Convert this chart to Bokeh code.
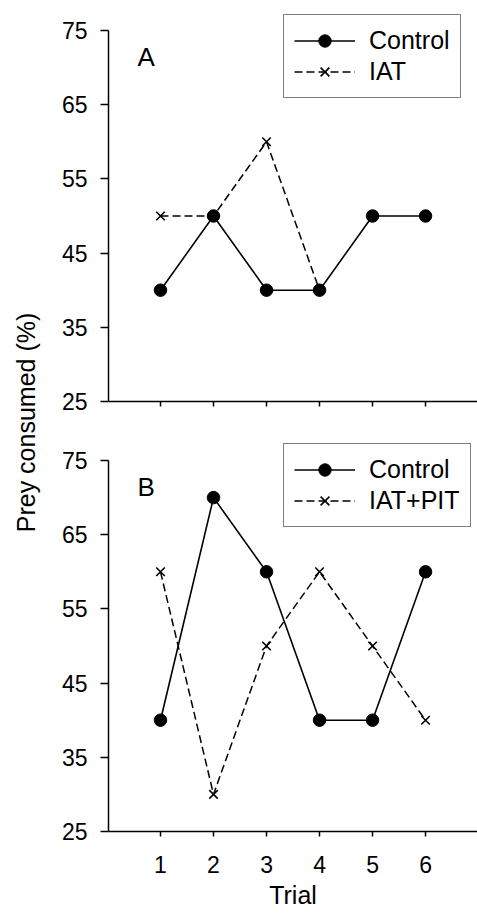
import math
from bokeh.plotting import figure
from bokeh.models import Label, Legend, LegendItem, FixedTicker, Range1d
from bokeh.layouts import row, column
from bokeh.embed import file_html
from bokeh.resources import INLINE

# ---- data ----
trials = [1, 2, 3, 4, 5, 6]
control_a = [40, 50, 40, 40, 50, 50]
iat_trials = [1, 2, 3, 4]
iat_a = [50, 50, 60, 40]
control_b = [40, 70, 60, 40, 40, 60]
iatpit_b = [60, 30, 50, 60, 50, 40]
y_ticks = [25, 35, 45, 55, 65, 75]
x_ticks = [1, 2, 3, 4, 5, 6]

FONT = "Liberation Sans"
INK = "#000000"
PX = 50.0 / 371.0  # data units per pixel on the y axis


def make_panel(letter, ctrl, treat_x, treat_y, treat_name, top_extra, top_border,
               bottom, show_xlabels):
    frame_h = 371 + top_extra
    p = figure(
        frame_width=369, frame_height=frame_h,
        min_border_left=60, min_border_right=0,
        min_border_top=top_border, min_border_bottom=bottom,
        x_range=Range1d(0.019, 6.98), y_range=Range1d(25, 75 + top_extra * PX),
        output_backend="svg", toolbar_location=None,
    )
    p.outline_line_color = None
    p.xgrid.grid_line_color = None
    p.ygrid.grid_line_color = None
    p.background_fill_color = "white"
    p.border_fill_color = "white"

    p.yaxis.ticker = FixedTicker(ticks=y_ticks)
    p.yaxis.bounds = (25, 75)
    p.xaxis.ticker = FixedTicker(ticks=x_ticks)
    for ax in (p.xaxis, p.yaxis):
        ax.axis_line_width = 1.5
        ax.axis_line_color = INK
        ax.major_tick_line_width = 1.5
        ax.major_tick_line_color = INK
        ax.minor_tick_line_color = None
        ax.major_tick_in = 0
        ax.major_label_text_font = FONT
        ax.major_label_text_font_size = "23px"
        ax.major_label_text_color = INK
    p.yaxis.major_tick_out = 8
    p.yaxis.major_label_standoff = 13
    p.xaxis.major_tick_out = 5
    p.xaxis.major_label_standoff = 19
    if show_xlabels:
        p.xaxis.axis_label = "Trial"
        p.xaxis.axis_label_text_font = FONT
        p.xaxis.axis_label_text_font_size = "25px"
        p.xaxis.axis_label_text_font_style = "normal"
        p.xaxis.axis_label_text_color = INK
        p.xaxis.axis_label_standoff = 5
    else:
        p.xaxis.major_label_overrides = {t: "" for t in x_ticks}

    r1 = p.line(trials, ctrl, line_color=INK, line_width=1.6)
    r2 = p.scatter(trials, ctrl, marker="circle", size=12.5, fill_color=INK, line_color=INK)
    r3 = p.line(treat_x, treat_y, line_color=INK, line_width=1.5, line_dash="8 4")
    r4 = p.scatter(treat_x, treat_y, marker="x", size=12, line_color=INK, line_width=1.6)

    legend = Legend(
        items=[LegendItem(label="Control", renderers=[r1, r2]),
               LegendItem(label=treat_name, renderers=[r3, r4])],
        location=(175, frame_h - 84),
        glyph_width=61, glyph_height=31, label_height=31,
        label_standoff=14, spacing=0, padding=10, margin=0,
        label_text_font=FONT, label_text_font_size="25px", label_text_color=INK,
        border_line_color=INK, border_line_width=1.5,
        background_fill_color="white", background_fill_alpha=1.0,
    )
    p.add_layout(legend, "center")

    p.add_layout(Label(x=0.566, y=71.4, text=letter, text_font=FONT,
                       text_font_size="26px", text_color=INK,
                       text_align="left", text_baseline="middle"))
    return p


pA = make_panel("A", control_a, iat_trials, iat_a, "IAT", 16, 14, 29, False)
pB = make_panel("B", control_b, trials, iatpit_b, "IAT+PIT", 17, 13, 87, True)

lab = figure(width=48, height=918, min_border=0, x_range=Range1d(0, 48),
             y_range=Range1d(0, 918), output_backend="svg", toolbar_location=None)
lab.axis.visible = False
lab.grid.visible = False
lab.outline_line_color = None
lab.add_layout(Label(x=25, y=496, text="Prey consumed (%)", angle=math.pi / 2,
                     text_font=FONT, text_font_size="25px", text_color=INK,
                     text_align="center", text_baseline="middle"))

layout = row(lab, column(pA, pB))
open("out.html", "w").write(file_html(layout, INLINE))
